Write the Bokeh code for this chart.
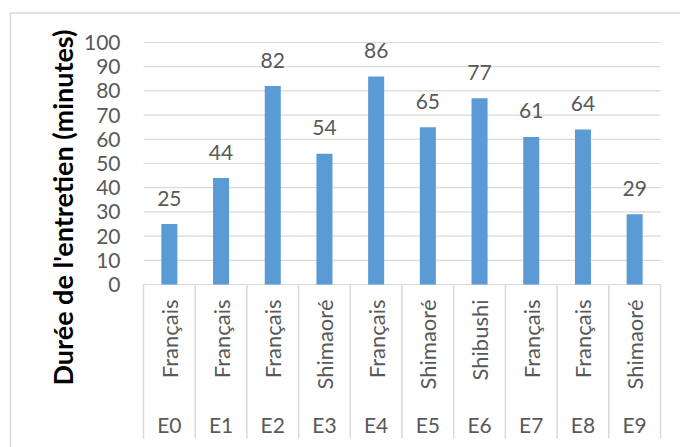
import math
from bokeh.plotting import figure
from bokeh.models import Range1d, ColumnDataSource
from bokeh.core.properties import value
from bokeh.embed import file_html
from bokeh.resources import INLINE

entretiens = ["E0", "E1", "E2", "E3", "E4", "E5", "E6", "E7", "E8", "E9"]
langues = ["Français", "Français", "Français", "Shimaoré", "Français",
           "Shimaoré", "Shibushi", "Français", "Français", "Shimaoré"]
durees = [25, 44, 82, 54, 86, 65, 77, 61, 64, 29]
y_ticks = [0, 10, 20, 30, 40, 50, 60, 70, 80, 90, 100]
y_title = "Durée de l'entretien (minutes)"

FONT = "Lato"
GRAY = "#D9D9D9"
TXT = "#595959"

n = len(entretiens)
xc = [i + 0.5 for i in range(n)]
src = ColumnDataSource(dict(x=xc, top=durees, lbl=[str(v) for v in durees],
                            lang=langues, ent=entretiens))

# Layout constants (pixels)
X0_PX, CAT_PX = 143.0, 51.7      # category axis start and width per category
Y0_PX, UNIT_PX = 284.0, 2.42     # zero line and pixels per minute
W, H = 680, 447

def xd(px):
    return (px - X0_PX) / CAT_PX

def yd(py):
    return (Y0_PX - py) / UNIT_PX

p = figure(width=W, height=H, output_backend="svg", toolbar_location=None,
           x_range=Range1d(xd(0), xd(W)), y_range=Range1d(yd(H), yd(0)),
           min_border=0)
p.outline_line_color = None
p.axis.visible = False
p.grid.visible = False

# gridlines (0..100)
p.segment(x0=[0] * len(y_ticks), y0=y_ticks, x1=[n] * len(y_ticks), y1=y_ticks,
          line_color=GRAY, line_width=1.2)

# y tick labels
p.text(x=[xd(120)] * len(y_ticks), y=y_ticks, text=[str(t) for t in y_ticks],
       text_align="right", text_baseline="middle", text_font=value(FONT),
       text_font_size="21px", text_color=TXT)

# bars
p.vbar(x="x", top="top", width=0.31, bottom=0, source=src,
       fill_color="#5B9BD5", line_color=None)

# data labels
p.text(x="x", y="top", text="lbl", source=src, text_align="center",
       text_baseline="alphabetic", y_offset=-26, text_font=value(FONT),
       text_font_size="21px", text_color=TXT)

# category dividers
div_x = list(range(n + 1))
p.segment(x0=div_x, y0=[0] * (n + 1), x1=div_x, y1=[yd(438)] * (n + 1),
          line_color=GRAY, line_width=1.5)

# language labels (rotated)
p.text(x="x", y=yd(299), text="lang", source=src, angle=math.pi / 2,
       text_align="right", text_baseline="middle", text_font=value(FONT),
       text_font_size="22px", text_color=TXT)

# interview labels
p.text(x="x", y=yd(424), text="ent", source=src, text_align="center",
       text_baseline="middle", text_font=value(FONT),
       text_font_size="21px", text_color=TXT)

# y axis title
p.text(x=[xd(62)], y=[yd(207)], text=[y_title], angle=math.pi / 2,
       text_align="center", text_baseline="middle", text_font=value(FONT),
       text_font_style="bold", text_font_size="27px", text_color="black")

# chart border
p.line(x=[xd(10), xd(10), xd(W + 20)], y=[yd(H + 20), yd(12.5), yd(12.5)],
       line_color=GRAY, line_width=1.5)

open("out.html", "w").write(file_html(p, INLINE))
